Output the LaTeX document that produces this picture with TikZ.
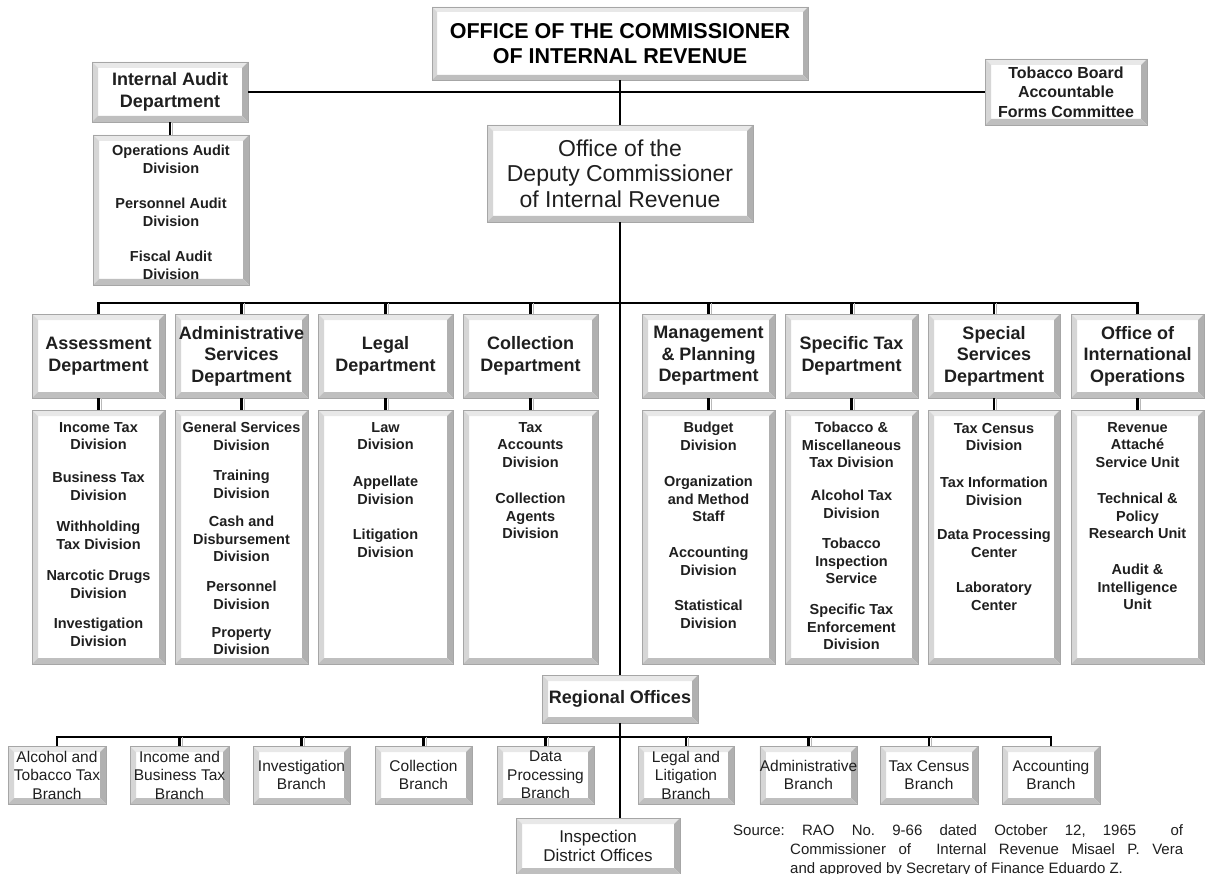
\documentclass[tikz,border=0pt]{standalone}
\usepackage{fontspec}
\setmainfont{Liberation Sans}
\tikzset{
  bevw/.store in=\bevw, bevw=6pt,
  bev/.style={fill=white, draw=gray!70, line width=0.5pt, inner sep=0pt, align=center, text=black!88,
    path picture={
      \fill[gray!18] (path picture bounding box.north west) -- (path picture bounding box.north east)
        -- ([shift={(-\bevw,-\bevw)}]path picture bounding box.north east)
        -- ([shift={(\bevw,-\bevw)}]path picture bounding box.north west) -- cycle;
      \fill[gray!32] (path picture bounding box.north west) -- (path picture bounding box.south west)
        -- ([shift={(\bevw,\bevw)}]path picture bounding box.south west)
        -- ([shift={(\bevw,-\bevw)}]path picture bounding box.north west) -- cycle;
      \fill[gray!62] (path picture bounding box.north east) -- (path picture bounding box.south east)
        -- ([shift={(-\bevw,\bevw)}]path picture bounding box.south east)
        -- ([shift={(-\bevw,-\bevw)}]path picture bounding box.north east) -- cycle;
      \fill[gray!50] (path picture bounding box.south west) -- (path picture bounding box.south east)
        -- ([shift={(-\bevw,\bevw)}]path picture bounding box.south east)
        -- ([shift={(\bevw,\bevw)}]path picture bounding box.south west) -- cycle;
    }},
  ttl/.style={font=\fontsize{21.5}{25.5}\selectfont\bfseries, bevw=5pt, text=black},
  dpt/.style={font=\fontsize{23}{25.5}\selectfont},
  hdr/.style={font=\fontsize{18}{21.5}\selectfont\bfseries},
  tbs/.style={font=\fontsize{16}{19.5}\selectfont\bfseries},
  brs/.style={font=\fontsize{15.5}{18.5}\selectfont},
  dv/.style={font=\fontsize{14.5}{17.8}\selectfont\bfseries, align=center, inner sep=0pt, text=black!88},
  src/.style={font=\fontsize{15}{19}\selectfont, inner sep=0pt, text=black!88},
  ln/.style={line width=2.2pt, black},
  tk/.style={line width=2.2pt, black, preaction={draw=gray!55, line width=1.2pt, transform canvas={xshift=2.6pt}}},
}
\newcommand\BX[7][]{%
  \pgfmathsetmacro\bxw{#5-#3}\pgfmathsetmacro\bxh{#6-#4}%
  \pgfmathsetmacro\bxx{(#3+#5)/2}\pgfmathsetmacro\bxy{(#4+#6)/2}%
  \node[bev,#1,minimum width=\bxw pt,minimum height=\bxh pt] (#2) at (\bxx,\bxy) {#7};}
\begin{document}
\begin{tikzpicture}[x=1pt,y=-1pt]
\clip (0,0) rectangle (1206,874);
\fill[white] (0,0) rectangle (1206,874);

% top level
\BX[ttl]{ocir}{432}{7}{808}{80}{OFFICE OF THE COMMISSIONER\\OF INTERNAL REVENUE}
\BX[hdr]{ia}{92}{62}{248}{122}{Internal Audit\\Department}
\BX{iad}{93}{135}{249}{285}{}
\BX[tbs]{tb}{985}{59}{1147}{125}{Tobacco Board\\Accountable\\Forms Committee}
\BX[dpt]{dep}{487}{125}{753}{222}{Office of the\\Deputy Commissioner\\of Internal Revenue}

% departments
\BX[hdr]{asd}{32}{314}{165}{398}{Assessment\\Department}
\BX[hdr]{adm}{175}{314}{308}{398}{Administrative\\Services\\Department}
\BX[hdr]{leg}{318}{314}{453}{398}{Legal\\Department}
\BX[hdr]{col}{463}{314}{598}{398}{Collection\\Department}
\BX[hdr]{mgt}{642}{314}{775}{398}{Management\\\& Planning\\Department}
\BX[hdr]{spt}{785}{314}{918}{398}{Specific Tax\\Department}
\BX[hdr]{sps}{928}{314}{1060}{398}{Special\\Services\\Department}
\BX[hdr]{oio}{1071}{314}{1204}{398}{Office of\\International\\Operations}

% division boxes
\BX{asdD}{32}{410}{165}{664}{}
\BX{admD}{175}{410}{308}{664}{}
\BX{legD}{318}{410}{453}{664}{}
\BX{colD}{463}{410}{598}{664}{}
\BX{mgtD}{642}{410}{775}{664}{}
\BX{sptD}{785}{410}{918}{664}{}
\BX{spsD}{928}{410}{1060}{664}{}
\BX{oioD}{1071}{410}{1204}{664}{}

% regional
\BX[hdr]{reg}{542}{675}{698}{723}{Regional Offices}
\BX[brs]{b1}{8}{746}{106}{804}{Alcohol and\\Tobacco Tax\\Branch}
\BX[brs]{b2}{130}{746}{229}{804}{Income and\\Business Tax\\Branch}
\BX[brs]{b3}{253}{746}{350}{804}{Investigation\\Branch}
\BX[brs]{b4}{375}{746}{472}{804}{Collection\\Branch}
\BX[brs]{b5}{497}{746}{594}{804}{Data\\Processing\\Branch}
\BX[brs]{b6}{638}{746}{734}{804}{Legal and\\Litigation\\Branch}
\BX[brs]{b7}{760}{746}{857}{804}{Administrative\\Branch}
\BX[brs]{b8}{880}{746}{978}{804}{Tax Census\\Branch}
\BX[brs]{b9}{1002}{746}{1100}{804}{Accounting\\Branch}
\BX[font=\fontsize{17}{19.5}\selectfont]{insp}{516}{818}{680}{874}{Inspection\\District Offices}

% internal audit divisions
\node[dv] (ia1) at (171,159) {Operations Audit\\Division};
\node[dv] (ia2) at (171,212) {Personnel Audit\\Division};
\node[dv] (ia3) at (171,265) {Fiscal Audit\\Division};

% assessment
\node[dv] (a1) at (98.5,436) {Income Tax\\Division};
\node[dv] (a2) at (98.5,486) {Business Tax\\Division};
\node[dv] (a3) at (98.5,535) {Withholding\\Tax Division};
\node[dv] (a4) at (98.5,584) {Narcotic Drugs\\Division};
\node[dv] (a5) at (98.5,632) {Investigation\\Division};
% administrative
\node[dv] (s1) at (241.5,436) {General Services\\Division};
\node[dv] (s2) at (241.5,484) {Training\\Division};
\node[dv] (s3) at (241.5,539) {Cash and\\Disbursement\\Division};
\node[dv] (s4) at (241.5,595) {Personnel\\Division};
\node[dv] (s5) at (241.5,641) {Property\\Division};
% legal
\node[dv] (l1) at (385.5,436) {Law\\Division};
\node[dv] (l2) at (385.5,490) {Appellate\\Division};
\node[dv] (l3) at (385.5,543) {Litigation\\Division};
% collection
\node[dv] (c1) at (530.5,445) {Tax\\Accounts\\Division};
\node[dv] (c2) at (530.5,516) {Collection\\Agents\\Division};
% management
\node[dv] (m1) at (708.5,436) {Budget\\Division};
\node[dv] (m2) at (708.5,499) {Organization\\and Method\\Staff};
\node[dv] (m3) at (708.5,561) {Accounting\\Division};
\node[dv] (m4) at (708.5,614) {Statistical\\Division};
% specific tax
\node[dv] (t1) at (851.5,445) {Tobacco \&\\Miscellaneous\\Tax Division};
\node[dv] (t2) at (851.5,504) {Alcohol Tax\\Division};
\node[dv] (t3) at (851.5,561) {Tobacco\\Inspection\\Service};
\node[dv] (t4) at (851.5,627) {Specific Tax\\Enforcement\\Division};
% special services
\node[dv] (p1) at (994,437) {Tax Census\\Division};
\node[dv] (p2) at (994,491) {Tax Information\\Division};
\node[dv] (p3) at (994,543) {Data Processing\\Center};
\node[dv] (p4) at (994,596) {Laboratory\\Center};
% international
\node[dv] (o1) at (1137.5,445) {Revenue\\Attach\'e\\Service Unit};
\node[dv] (o2) at (1137.5,516) {Technical \&\\Policy\\Research Unit};
\node[dv] (o3) at (1137.5,587) {Audit \&\\Intelligence\\Unit};

% source
\node[src, anchor=north west] (srcnote) at (733,824) {\parbox{450pt}{\frenchspacing\hangindent=57pt\hangafter=1 Source: RAO No. 9-66 dated October 12, 1965 \ of\linebreak Commissioner of \ Internal Revenue Misael P. Vera\linebreak and approved by Secretary of Finance Eduardo Z.}};

% connectors
\draw[ln] (ocir.south) -- (dep.north);
\draw[ln] (ia.east) -- (tb.west);
\draw[tk] (ia.south) -- (ia.south |- iad.north);
\draw[ln] (dep.south) -- (reg.north);
\coordinate (bar) at (620,303);
\draw[ln] (asd.north) -- (asd.north |- bar) -- (oio.north |- bar) -- (oio.north);
\foreach \d in {adm,leg,col,mgt,spt,sps}{\draw[tk] (\d.north |- bar) -- (\d.north);}
\foreach \d in {asd,adm,leg,col,mgt,spt,sps,oio}{\draw[tk] (\d.south) -- (\d D.north);}
\draw[ln] (reg.south) -- (reg.south |- insp.north);
\coordinate (bbar) at (620,737);
\draw[ln] (b1.north) -- (b1.north |- bbar) -- (b9.north |- bbar) -- (b9.north);
\foreach \b in {b2,b3,b4,b5,b6,b7,b8}{\draw[tk] (\b.north |- bbar) -- (\b.north);}
\end{tikzpicture}
\end{document}
